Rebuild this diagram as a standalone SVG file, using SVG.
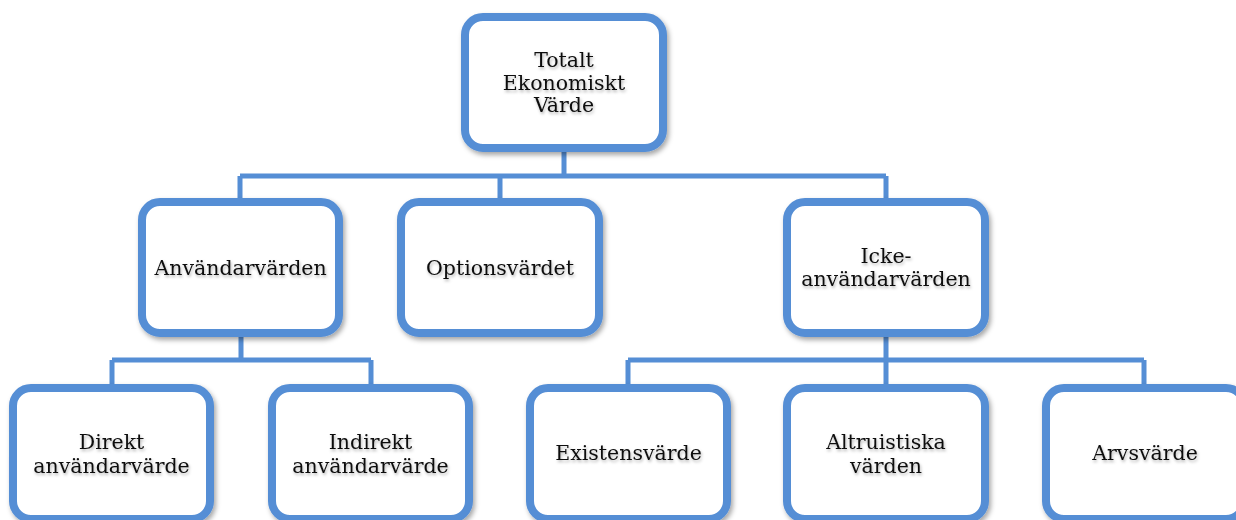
<svg xmlns="http://www.w3.org/2000/svg" width="1236" height="520" viewBox="0 0 1236 520">
<style>
.box{fill:#ffffff;stroke:#558ED5;stroke-width:8;filter:url(#sh)}
.lbl{font-family:"DejaVu Serif","Liberation Serif",serif;font-size:20.5px;fill:#111;text-anchor:middle;filter:url(#tsh)}
.con{fill:none;stroke:#558ED5;stroke-width:5}
</style>
<defs>
<filter id="sh" x="-10%" y="-10%" width="125%" height="125%">
<feDropShadow dx="2" dy="3" stdDeviation="2.5" flood-color="#000" flood-opacity="0.35"/>
</filter>
<filter id="tsh" x="-10%" y="-30%" width="120%" height="170%">
<feDropShadow dx="1" dy="2" stdDeviation="1.5" flood-color="#000" flood-opacity="0.3"/>
</filter>
</defs>
<g id="connectors">
<path class="con" d="M564 150 V176 M240 176 H886 M240 176 V202 M500 176 V202 M886 176 V202"/>
<path class="con" d="M241 335 V360 M112 360 H371 M112 360 V388 M371 360 V388"/>
<path class="con" d="M886 335 V360 M628 360 H1144 M628 360 V388 M886 360 V388 M1144 360 V388"/>
</g>
<g id="n-total">
<rect class="box" x="465" y="17" width="198" height="131" rx="18"/>
<text class="lbl"><tspan x="564" y="67">Totalt</tspan><tspan x="564" y="90">Ekonomiskt</tspan><tspan x="564" y="112">Värde</tspan></text>
</g>
<g id="n-anv">
<rect class="box" x="142" y="202" width="197" height="131" rx="18"/>
<text class="lbl" x="240.5" y="275">Användarvärden</text>
</g>
<g id="n-opt">
<rect class="box" x="401" y="202" width="198" height="131" rx="18"/>
<text class="lbl" x="500" y="275">Optionsvärdet</text>
</g>
<g id="n-icke">
<rect class="box" x="787" y="202" width="198" height="131" rx="18"/>
<text class="lbl"><tspan x="886" y="263">Icke-</tspan><tspan x="886" y="286">användarvärden</tspan></text>
</g>
<g id="n-direkt">
<rect class="box" x="13" y="388" width="197" height="131" rx="18"/>
<text class="lbl"><tspan x="111.5" y="449">Direkt</tspan><tspan x="111.5" y="473">användarvärde</tspan></text>
</g>
<g id="n-indirekt">
<rect class="box" x="272" y="388" width="197" height="131" rx="18"/>
<text class="lbl"><tspan x="370.5" y="449">Indirekt</tspan><tspan x="370.5" y="473">användarvärde</tspan></text>
</g>
<g id="n-existens">
<rect class="box" x="530" y="388" width="197" height="131" rx="18"/>
<text class="lbl" x="628.5" y="460">Existensvärde</text>
</g>
<g id="n-altru">
<rect class="box" x="787" y="388" width="198" height="131" rx="18"/>
<text class="lbl"><tspan x="886" y="449">Altruistiska</tspan><tspan x="886" y="473">värden</tspan></text>
</g>
<g id="n-arvs">
<rect class="box" x="1046" y="388" width="198" height="131" rx="18"/>
<text class="lbl" x="1145" y="460">Arvsvärde</text>
</g>
</svg>
